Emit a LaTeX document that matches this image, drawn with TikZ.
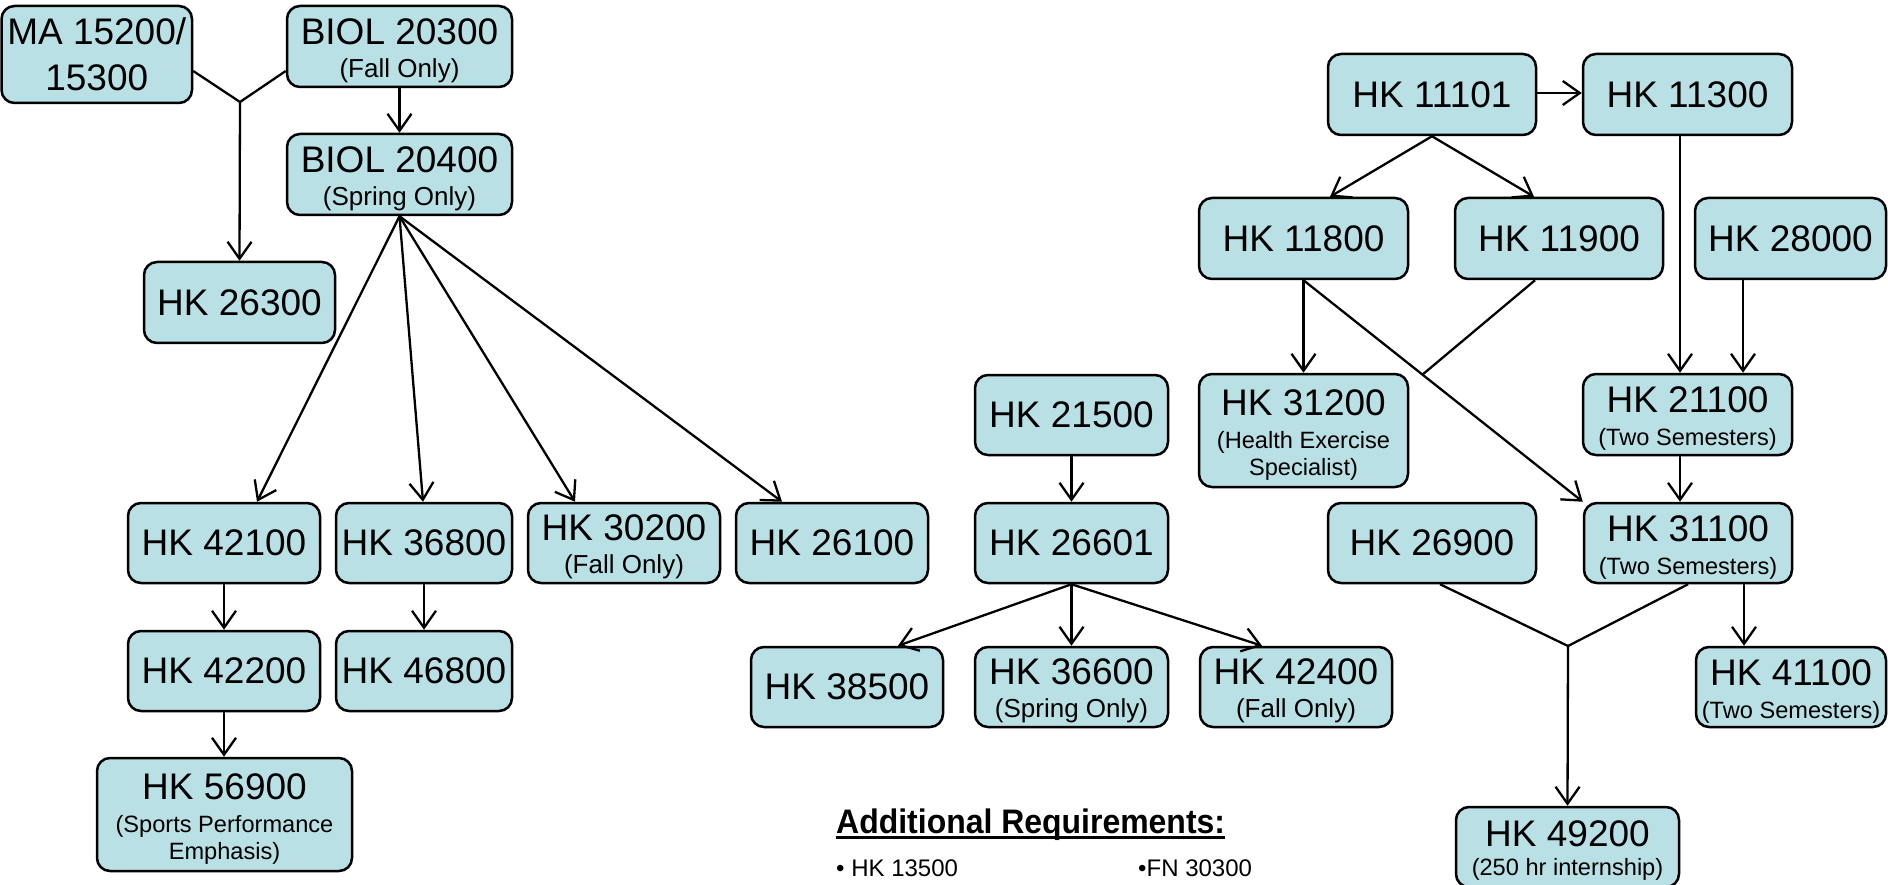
\documentclass[tikz,border=0pt]{standalone}
\usepackage{fontspec}
\setmainfont{Liberation Sans}
\usepackage{graphicx}
\usetikzlibrary{arrows.meta,calc}
\definecolor{boxfill}{RGB}{185,224,228}
\newcommand\subtx{\fontsize{23.6}{28}\selectfont}
\newcommand\subtb{\fontsize{26}{30}\selectfont}
\newcommand\ulbox[1]{\setbox0\hbox{#1}\rlap{\rule[-6pt]{\wd0}{3.5pt}}\box0}
\begin{document}
\begin{tikzpicture}[x=1pt,y=-1pt,
  crs/.style={draw=black, fill=boxfill, line width=2.5pt, rounded corners=13pt, inner sep=0pt, align=center, font=\fontsize{37}{33}\selectfont},
  link/.style={line width=2.3pt, line join=round},
  arr/.style={link, -{Straight Barb[length=17pt,width=24pt,line width=2.3pt]}}]
\useasboundingbox (0,0) rectangle (1888,885);

% left group
\node[crs, minimum width=190.5pt, minimum height=97pt, font=\fontsize{37}{46}\selectfont] (ma) at (96.75,54.5) {MA 15200/\\15300};
\node[crs, minimum width=225pt, minimum height=81pt] (biol203) at (399.5,46.5) {\rule{0pt}{34pt}BIOL 20300\\\subtb (Fall Only)};
\node[crs, minimum width=225pt, minimum height=81pt] (biol204) at (399.5,174.5) {\rule{0pt}{34pt}BIOL 20400\\\subtb (Spring Only)};
\node[crs, minimum width=191pt, minimum height=81pt] (hk26300) at (239.5,302.5) {HK 26300};
\node[crs, minimum width=192pt, minimum height=80pt] (hk42100) at (224,543) {HK 42100};
\node[crs, minimum width=176pt, minimum height=80pt] (hk36800) at (424,543) {HK 36800};
\node[crs, minimum width=192pt, minimum height=80pt] (hk30200) at (624,543) {\rule{0pt}{34pt}HK 30200\\\subtb (Fall Only)};
\node[crs, minimum width=192pt, minimum height=80pt] (hk26100) at (832,543) {HK 26100};
\node[crs, minimum width=192pt, minimum height=80pt] (hk42200) at (224,671) {HK 42200};
\node[crs, minimum width=176pt, minimum height=80pt] (hk46800) at (424,671) {HK 46800};
\node[crs, minimum width=255pt, minimum height=113pt] (hk56900) at (224.5,814.5) {\rule{0pt}{34pt}HK 56900\\\subtx (Sports Performance\\[-6pt]\subtx Emphasis)};

% middle group
\node[crs, minimum width=193pt, minimum height=80pt] (hk21500) at (1071.5,415) {HK 21500};
\node[crs, minimum width=193pt, minimum height=80pt] (hk26601) at (1071.5,543) {HK 26601};
\node[crs, minimum width=192pt, minimum height=80pt] (hk38500) at (847,687) {HK 38500};
\node[crs, minimum width=193pt, minimum height=80pt] (hk36600) at (1071.5,687) {\rule{0pt}{34pt}HK 36600\\\subtb (Spring Only)};
\node[crs, minimum width=192pt, minimum height=80pt] (hk42400) at (1296,687) {\rule{0pt}{34pt}HK 42400\\\subtb (Fall Only)};

% right group
\node[crs, minimum width=208pt, minimum height=81pt] (hk11101) at (1432,94.5) {HK 11101};
\node[crs, minimum width=209pt, minimum height=81pt] (hk11300) at (1687.5,94.5) {HK 11300};
\node[crs, minimum width=209pt, minimum height=81pt] (hk11800) at (1303.5,238.5) {HK 11800};
\node[crs, minimum width=208pt, minimum height=81pt] (hk11900) at (1559,238.5) {HK 11900};
\node[crs, minimum width=191pt, minimum height=81pt] (hk28000) at (1790.5,238.5) {HK 28000};
\node[crs, minimum width=209pt, minimum height=113pt] (hk31200) at (1303.5,430.5) {\rule{0pt}{34pt}HK 31200\\\subtx (Health Exercise\\[-6pt]\subtx Specialist)};
\node[crs, minimum width=209pt, minimum height=81pt] (hk21100) at (1687.5,414.5) {\rule{0pt}{34pt}HK 21100\\\subtx (Two Semesters)};
\node[crs, minimum width=208pt, minimum height=80pt] (hk26900) at (1432,543) {HK 26900};
\node[crs, minimum width=208pt, minimum height=80pt] (hk31100) at (1688,543) {\rule{0pt}{34pt}HK 31100\\\subtx (Two Semesters)};
\node[crs, minimum width=190pt, minimum height=80pt] (hk41100) at (1791,687) {\rule{0pt}{34pt}HK 41100\\\subtx (Two Semesters)};
\node[crs, minimum width=223pt, minimum height=80pt] (hk49200) at (1567.5,847) {\rule{0pt}{32pt}HK 49200\\[-4pt]\subtx (250 hr internship)};

% additional requirements
\node[anchor=base west, inner sep=0pt, font=\bfseries\fontsize{34}{40}\selectfont] (addreq) at (836,833) {\scalebox{0.94}[1]{\ulbox{Additional Requirements:}}};
\node[anchor=base west, inner sep=0pt, font=\fontsize{24}{28}\selectfont] (req1) at (836,876) {\textbullet\ HK 13500};
\node[anchor=base west, inner sep=0pt, font=\fontsize{24}{28}\selectfont] (req2) at (1138,876) {\textbullet FN 30300};

% junction coordinates
\coordinate (j1) at (240,102);
\coordinate (j2) at (1568,646);
\coordinate (d1) at ($(hk11800.south)!0.426!(hk31100.north west)$);

% connectors left
\draw[link] ([yshift=-16.5pt]ma.east) -- (j1);
\draw[link] ([yshift=-24.5pt]biol203.west) -- (j1);
\draw[arr] (j1) -- (hk26300.north);
\draw[arr] (biol203.south) -- (biol204.north);
\draw[arr] (biol204.south) -- ([xshift=33pt]hk42100.north);
\draw[arr] (biol204.south) -- ([xshift=-1pt]hk36800.north);
\draw[arr] (biol204.south) -- ([xshift=-49pt]hk30200.north);
\draw[arr] (biol204.south) -- ([xshift=-50pt]hk26100.north);
\draw[arr] (hk42100.south) -- (hk42200.north);
\draw[arr] (hk36800.south) -- (hk46800.north);
\draw[arr] (hk42200.south) -- (hk42200.south |- hk56900.north);

% connectors middle
\draw[arr] (hk21500.south) -- (hk26601.north);
\draw[arr] (hk26601.south) -- ([xshift=51pt]hk38500.north);
\draw[arr] (hk26601.south) -- (hk36600.north);
\draw[arr] (hk26601.south) -- ([xshift=-34pt]hk42400.north);

% connectors right
\draw[arr] ([yshift=1.5pt]hk11101.east) -- ([yshift=1.5pt]hk11101.east -| hk11300.west);
\draw[arr] (hk11101.south) -- ([xshift=26.5pt]hk11800.north);
\draw[arr] (hk11101.south) -- ([xshift=-25pt]hk11900.north);
\draw[arr] (hk11800.south) -- (hk31200.north);
\draw[arr] (hk11800.south) -- (hk31100.north west);
\draw[link] ([xshift=-24pt]hk11900.south) -- (d1);
\draw[arr] ([xshift=-7.5pt]hk11300.south) -- ([xshift=-7.5pt]hk21100.north);
\draw[arr] ([xshift=-47.5pt]hk28000.south) -- ([xshift=-47.5pt]hk28000.south |- hk21100.north);
\draw[arr] ([xshift=-7.5pt]hk21100.south) -- ([xshift=-8pt]hk31100.north);
\draw[arr] ([xshift=56pt]hk31100.south) -- ([xshift=56pt]hk31100.south |- hk41100.north);
\draw[link] ([xshift=8pt]hk26900.south) -- (j2);
\draw[link] (hk31100.south) -- (j2);
\draw[arr] (j2) -- (hk49200.north);
\end{tikzpicture}
\end{document}
